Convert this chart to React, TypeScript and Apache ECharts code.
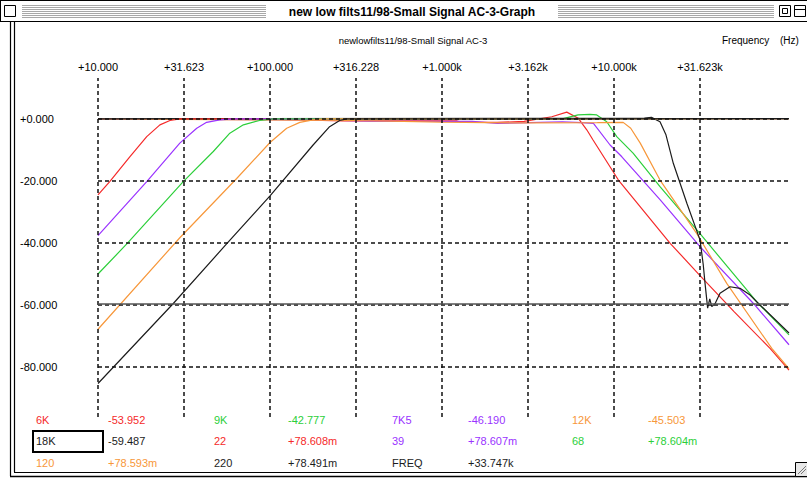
import React, { useEffect, useRef } from "react";
import * as echarts from "echarts";

// ---- axis ticks / labels ----
const freqTicks = [10, 31.623, 100, 316.228, 1000, 3162.28, 10000, 31623];
const freqLabels = ["+10.000", "+31.623", "+100.000", "+316.228", "+1.000k", "+3.162k", "+10.000k", "+31.623k"];
const dbTicks = [0, -20, -40, -60, -80];
const dbLabels = ["+0.000", "-20.000", "-40.000", "-60.000", "-80.000"];
const cursorLevel = -59.487;

// ---- low-pass traces [Hz, dB] ----
const lp6k = [[10, 0], [100, -0.1], [266, -0.6], [1223, -0.65], [1300, -1.1], [2089, -1.1], [3000, -0.8], [4345, 0.7], [5310, 2.2], [6200, 0.2], [6940, -3.5], [7550, -6.8], [10600, -19.7], [21200, -40.1], [31600, -50.5], [50000, -62.2], [80700, -74], [104000, -81]];
const lp9k = [[10, 0], [5000, 0], [6180, 1.3], [7240, 1.5], [7930, 1.3], [9070, -0.9], [10370, -5.7], [12900, -11], [18500, -21.8], [31600, -37], [67600, -59], [104000, -69.6]];
const lp7k5 = [[10, 0], [200, -0.3], [400, -0.7], [1500, -0.8], [2100, -1.4], [3200, -1.2], [5000, -0.9], [6500, -1.2], [7590, -1.4], [9480, -8.4], [11100, -12.2], [18500, -26], [31600, -41.2], [64600, -59.5], [104000, -72.8]];
const lp12k = [[10, 0], [300, -0.5], [1000, -1.0], [3000, -1.3], [8000, -1.2], [11300, -1.1], [12500, -3], [14200, -7.8], [18500, -19.7], [30200, -36.9], [45200, -53], [82600, -74], [104000, -80.5]];
const lp18k = [[10, 0], [15000, 0.3], [16500, 0.5], [18500, -0.9], [20000, -5], [22100, -14.3], [26500, -27.2], [31600, -39], [33000, -47], [33800, -53], [35000, -61], [36000, -58], [37000, -60.5], [38700, -59.5], [41300, -56.2], [47200, -54.1], [54000, -54.6], [61800, -56.8], [69100, -59.5], [104000, -69]];

// ---- high-pass traces [Hz, dB] ----
const hp22 = [[10, -24.5], [11.7, -20.2], [15.3, -12.2], [19.2, -5.7], [22.9, -1.9], [26.2, -0.5], [30, 0], [100, 0.08], [104000, 0.08]];
const hp39 = [[10, -37.6], [19.2, -20.2], [29.9, -7.8], [37.5, -3.0], [42.8, -1.1], [51, -0.3], [61, 0], [104000, 0.08]];
const hp68 = [[10, -50], [14.7, -40.3], [31.3, -20.2], [46.8, -10.5], [58.4, -4.6], [70, -1.9], [87, -0.5], [104, 0], [104000, 0.08]];
const hp120 = [[10, -67.8], [29.9, -38.3], [64, -19.2], [100, -7.6], [125, -3.0], [149, -1.1], [178, -0.3], [213, 0], [104000, 0.08]];
const hp220 = [[10, -85.3], [27.4, -59.5], [55.9, -40.3], [100, -24.8], [178, -8.4], [222, -2.5], [254, -0.5], [279, 0], [104000, 0.08]];

// ---- cursor readout ----
const readoutNames = ["6K", "9K", "7K5", "12K", "18K", "22", "39", "68", "120", "220", "FREQ"];
const readoutValues = ["-53.952", "-42.777", "-46.190", "-45.503", "-59.487", "+78.608m", "+78.607m", "+78.604m", "+78.593m", "+78.491m", "+33.747k"];

const RED = "#f52a2a";
const GREEN = "#2ccf3a";
const PURPLE = "#9a33ff";
const ORANGE = "#f7973a";
const BLACK = "#1c1c1c";
const readoutColors = [RED, GREEN, PURPLE, ORANGE, BLACK, RED, PURPLE, GREEN, ORANGE, BLACK, BLACK];

const FONT = "'Liberation Sans', Arial, sans-serif";

export default function App() {
  const ref = useRef<HTMLDivElement>(null);
  useEffect(() => {
    document.body.style.margin = "0";
    const chart = echarts.init(ref.current!, null, { renderer: "svg" });

    const curve = (name: string, data: number[][], color: string, z: number) => ({
      name,
      type: "line",
      data,
      showSymbol: false,
      symbol: "none",
      smooth: false,
      z,
      lineStyle: { color, width: 1.2 },
      itemStyle: { color },
    });

    const gridLineStyle = { color: "#111", width: 1.5, type: [4, 3] };
    const markData: any[] = [];
    freqTicks.forEach((v, i) => {
      markData.push({
        xAxis: v,
        lineStyle: gridLineStyle,
        label: { show: true, position: "end", distance: 6, formatter: freqLabels[i], color: "#000", fontSize: 11, fontFamily: FONT },
      });
    });
    dbTicks.forEach((v) => {
      markData.push({ yAxis: v, lineStyle: gridLineStyle, label: { show: false } });
    });
    markData.push({ yAxis: cursorLevel, lineStyle: { color: "#555", width: 1.6, type: "solid" }, label: { show: false } });

    const gridSeries = {
      name: "grid",
      type: "line",
      data: [],
      z: 1,
      silent: true,
      markLine: { silent: true, symbol: "none", animation: false, data: markData },
    };

    // readout texts
    const colX = [36, 108, 214, 288, 392, 468, 572, 648];
    const rowY = [421, 442, 464];
    const readoutGraphics: any[] = [];
    readoutNames.forEach((n, i) => {
      const row = Math.floor(i / 4);
      const col = (i % 4) * 2;
      readoutGraphics.push({
        type: "text", left: colX[col], top: rowY[row] - 7,
        style: { text: n, fill: readoutColors[i], font: `11px ${FONT}` },
      });
      readoutGraphics.push({
        type: "text", left: colX[col + 1], top: rowY[row] - 7,
        style: { text: readoutValues[i], fill: readoutColors[i], font: `11px ${FONT}` },
      });
    });

    const stripes: any[] = [];
    for (let y = 5; y <= 18; y += 2) {
      stripes.push({ type: "line", shape: { x1: 22, y1: y + 0.5, x2: 774, y2: y + 0.5 }, style: { stroke: "#a8a8a8", lineWidth: 1 } });
    }

    chart.setOption({
      animation: false,
      backgroundColor: "#ffffff",
      grid: { left: 98, top: 78, width: 691, height: 339, containLabel: false },
      xAxis: {
        type: "log", logBase: 10, min: 10, max: 104000, position: "top",
        axisLine: { show: false }, axisTick: { show: false }, axisLabel: { show: false }, splitLine: { show: false },
      },
      yAxis: {
        type: "value", min: -96.1, max: 13.2,
        axisLine: { show: false }, axisTick: { show: false }, splitLine: { show: false },
        axisLabel: {
          customValues: dbTicks,
          formatter: (v: number) => {
            const i = dbTicks.findIndex((t) => Math.abs(t - v) < 0.01);
            return i >= 0 ? dbLabels[i] : "";
          },
          align: "left", margin: 78, fontSize: 11, color: "#000", fontFamily: FONT,
        },
      },
      series: [
        gridSeries,
        curve("6K", lp6k, RED, 3),
        curve("9K", lp9k, GREEN, 3),
        curve("7K5", lp7k5, PURPLE, 3),
        curve("12K", lp12k, ORANGE, 3),
        curve("18K", lp18k, BLACK, 3),
        curve("22", hp22, RED, 4),
        curve("39", hp39, PURPLE, 4),
        curve("68", hp68, GREEN, 4),
        curve("120", hp120, ORANGE, 4),
        curve("220", hp220, BLACK, 4),
      ],
      graphic: [
        // title bar
        ...stripes,
        { type: "rect", shape: { x: 266, y: 3, width: 292, height: 17 }, style: { fill: "#fff" } },
        { type: "text", x: 412, y: 12, style: { text: "new low filts11/98-Small Signal AC-3-Graph", fill: "#000", font: `bold 12px ${FONT}`, align: "center", verticalAlign: "middle" } },
        { type: "rect", shape: { x: 4.5, y: 5.5, width: 11, height: 11 }, style: { fill: "#fff", stroke: "#000", lineWidth: 1 } },
        { type: "rect", shape: { x: 779.5, y: 5.5, width: 11, height: 11 }, style: { fill: "#fff", stroke: "#000", lineWidth: 1 } },
        { type: "rect", shape: { x: 782.5, y: 8.5, width: 5, height: 5 }, style: { fill: "none", stroke: "#000", lineWidth: 1 } },
        { type: "rect", shape: { x: 794.5, y: 5.5, width: 11, height: 11 }, style: { fill: "#fff", stroke: "#000", lineWidth: 1 } },
        { type: "line", shape: { x1: 794, y1: 9.5, x2: 806, y2: 9.5 }, style: { stroke: "#000", lineWidth: 1 } },
        { type: "line", shape: { x1: 0, y1: 21.5, x2: 807, y2: 21.5 }, style: { stroke: "#000", lineWidth: 1 } },
        { type: "line", shape: { x1: 0.5, y1: 0, x2: 0.5, y2: 22 }, style: { stroke: "#000", lineWidth: 1 } },
        { type: "line", shape: { x1: 0, y1: 0.5, x2: 807, y2: 0.5 }, style: { stroke: "#000", lineWidth: 1 } },
        // window frame
        { type: "line", shape: { x1: 10.5, y1: 22, x2: 10.5, y2: 476 }, style: { stroke: "#000", lineWidth: 1.2 } },
        { type: "line", shape: { x1: 14.5, y1: 22, x2: 14.5, y2: 472 }, style: { stroke: "#000", lineWidth: 1.2 } },
        { type: "line", shape: { x1: 14, y1: 472.5, x2: 807, y2: 472.5 }, style: { stroke: "#000", lineWidth: 1.2 } },
        { type: "line", shape: { x1: 10, y1: 476.5, x2: 807, y2: 476.5 }, style: { stroke: "#000", lineWidth: 1.5 } },
        { type: "rect", shape: { x: 795.5, y: 462.5, width: 12, height: 14 }, style: { fill: "#e8e8e8", stroke: "#000", lineWidth: 1 } },
        { type: "line", shape: { x1: 798, y1: 474, x2: 806, y2: 466 }, style: { stroke: "#777", lineWidth: 1 } },
        { type: "line", shape: { x1: 801, y1: 474, x2: 806, y2: 469 }, style: { stroke: "#777", lineWidth: 1 } },
        // headings
        { type: "text", x: 413, y: 40, style: { text: "newlowfilts11/98-Small Signal AC-3", fill: "#000", font: `9.5px ${FONT}`, align: "center", verticalAlign: "middle" } },
        { type: "text", x: 722, y: 40, style: { text: "Frequency", fill: "#000", font: `10px ${FONT}`, verticalAlign: "middle" } },
        { type: "text", x: 780, y: 40, style: { text: "(Hz)", fill: "#000", font: `10px ${FONT}`, verticalAlign: "middle" } },
        // readout
        { type: "rect", shape: { x: 33, y: 431, width: 70, height: 21 }, style: { fill: "none", stroke: "#000", lineWidth: 2 } },
        ...readoutGraphics,
      ],
    });
    return () => chart.dispose();
  }, []);
  return <div ref={ref} style={{ width: 807, height: 479 }} />;
}
